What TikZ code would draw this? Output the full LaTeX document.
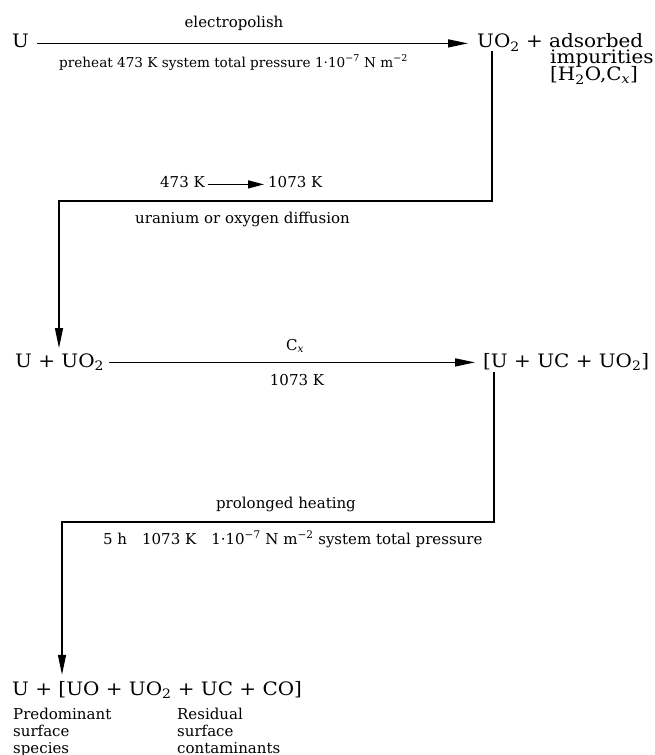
\documentclass[tikz,border=0pt]{standalone}
\usepackage{fontspec}
\setmainfont{DejaVu Serif}
\newfontfamily\bigfont[FakeStretch=1.08]{DejaVu Serif}
\usetikzlibrary{arrows.meta}
\newcommand{\chsub}[1]{\textsubscript{#1}}
\newcommand{\chsup}[1]{\textsuperscript{#1}}
\begin{document}
\begin{tikzpicture}[x=1pt,y=-1pt,
  big/.style={font=\bigfont\fontsize{18.5}{16.5}\selectfont, inner sep=0pt},
  lab/.style={font=\fontsize{15}{17}\selectfont, inner sep=0pt},
  conn/.style={line width=1.4pt},
  arr/.style={conn,-{Triangle[length=20pt,width=8pt]}},
  sarr/.style={conn,-{Triangle[length=16pt,width=8pt]}}]
\useasboundingbox (0,0) rectangle (655,755);

% top row
\node[big,anchor=base west] (U) at (12,47.5) {U};
\node[big,anchor=base west] (UO2) at (477,47.5) {UO\chsub{2} + adsorbed};
\node[big,anchor=base west] (imp) at (550,63.5) {impurities};
\node[big,anchor=base west] (HO) at (550,80.5) {[H\chsub{2}O,C\chsub{\textit{x}}]};
\node[lab,anchor=base] (ep) at (234,27) {electropolish};
\node[lab,anchor=base west,font=\fontsize{13.6}{16}\selectfont] (ph) at (59,67) {preheat 473 K system total pressure 1·10\chsup{−7} N m\chsup{−2}};
\draw[arr] ([shift={(8pt,1.5pt)}]U.mid east) -- ([shift={(-9pt,1.5pt)}]UO2.mid west);

% first elbow
\coordinate (v1) at (492,51);
\coordinate (c1) at (492,201);
\coordinate (c2) at (59,201);
\node[lab,anchor=base west] (k1) at (160,187) {473 K};
\node[lab,anchor=base west] (k2) at (268,187) {1073 K};
\draw[sarr] ([xshift=3pt]k1.mid east) -- ([xshift=-4pt]k2.mid west);
\node[lab,anchor=base west] (dif) at (135,223) {uranium or oxygen diffusion};

% middle row
\node[big,anchor=base west] (UU) at (15,367) {U + UO\chsub{2}};
\node[big,anchor=base west] (UUC) at (483,367) {[U + UC + UO\chsub{2}]};
\draw[arr] (v1) -- (c1) -- (c2) -- ([yshift=5pt]c2 |- UU.north);
\draw[arr] ([shift={(5pt,2pt)}]UU.mid east) -- ([shift={(-8pt,2pt)}]UUC.mid west);
\node[lab,anchor=base] (cx) at (295,350) {C\chsub{\textit{x}}};
\node[lab,anchor=base] (t2) at (297,385) {1073 K};

% second elbow
\coordinate (v2) at (494,372);
\coordinate (c3) at (494,522);
\coordinate (c4) at (62,522);
\node[lab,anchor=base] (pro) at (286,508) {prolonged heating};
\node[lab,anchor=base west] (fh) at (103,544) {5 h\quad 1073 K\quad 1·10\chsup{−7} N m\chsup{−2} system total pressure};

% bottom
\node[big,anchor=base west] (fin) at (12,695) {U + [UO + UO\chsub{2} + UC + CO]};
\draw[arr] (v2) -- (c3) -- (c4) -- ([yshift=6pt]c4 |- fin.north);
\node[lab,anchor=base west] (pred) at (13,719) {Predominant};
\node[lab,anchor=base west] (pred2) at (13,736) {surface};
\node[lab,anchor=base west] (pred3) at (13,753) {species};
\node[lab,anchor=base west] (res) at (177,719) {Residual};
\node[lab,anchor=base west] (res2) at (177,736) {surface};
\node[lab,anchor=base west] (res3) at (177,753) {contaminants};
\end{tikzpicture}
\end{document}
